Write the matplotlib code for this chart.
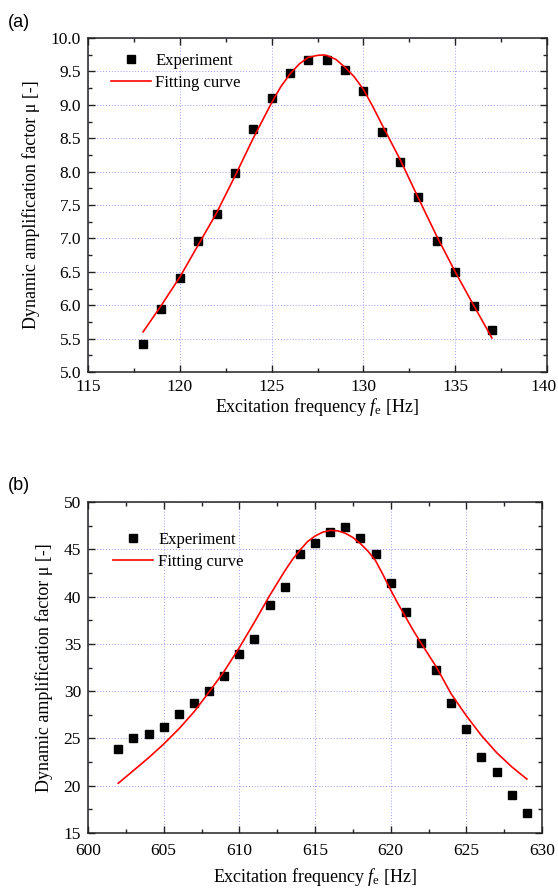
import matplotlib
matplotlib.use("Agg")
import matplotlib.pyplot as plt
import matplotlib.transforms as mtransforms
from matplotlib.ticker import MultipleLocator

# ---- data panel (a)
freq_a = [118, 119, 120, 121, 122, 123, 124, 125, 126, 127, 128, 129, 130,
          131, 132, 133, 134, 135, 136, 137]
mu_a = [5.42, 5.94, 6.40, 6.96, 7.37, 7.98, 8.64, 9.10, 9.47, 9.67, 9.67,
        9.52, 9.21, 8.59, 8.14, 7.62, 6.96, 6.50, 5.99, 5.63]
fit_fa = [118, 119, 120, 121, 122, 123, 124, 125, 125.5, 126, 126.5, 127,
          127.5, 127.8, 128, 128.5, 129, 129.5, 130, 130.5, 131, 132, 133,
          134, 135, 136, 137]
fit_ma = [5.60, 6.00, 6.42, 6.90, 7.38, 7.93, 8.50, 9.03, 9.27, 9.46, 9.61,
          9.71, 9.74, 9.745, 9.74, 9.68, 9.56, 9.42, 9.23, 8.98, 8.71, 8.18,
          7.60, 7.03, 6.50, 6.00, 5.51]

# ---- data panel (b)
freq_b = list(range(602, 630))
mu_b = [23.85, 25.0, 25.47, 26.17, 27.58, 28.78, 29.98, 31.6, 33.93, 35.55,
        39.14, 40.98, 44.47, 45.7, 46.86, 47.32, 46.16, 44.47, 41.4, 38.4,
        35.13, 32.27, 28.78, 26.0, 23.07, 21.41, 19.02, 17.11]
fit_fb = [602, 603, 604, 605, 606, 607, 608, 609, 610, 611, 611.5, 612,
          612.5, 613, 613.5, 614, 614.5, 615, 615.5, 616, 616.5, 617, 617.5,
          618, 618.5, 619, 619.5, 620, 620.5, 621, 621.5, 622, 623, 624, 625,
          626, 627, 628, 629]
fit_mb = [20.26, 21.6, 22.95, 24.4, 26.0, 27.8, 29.9, 32.1, 34.6, 37.3, 38.7,
          40.1, 41.4, 42.7, 43.9, 44.9, 45.8, 46.4, 46.8, 47.0, 46.95, 46.7,
          46.25, 45.6, 44.8, 43.8, 42.3, 40.7, 39.2, 37.8, 36.4, 35.1, 32.6,
          29.7, 27.4, 25.3, 23.5, 22.0, 20.7]

xticks_a = [115, 120, 125, 130, 135, 140]
xticks_b = [600, 605, 610, 615, 620, 625, 630]

xlabel = "Excitation frequency $f_\\mathrm{e}$ [Hz]"
ylabel = "Dynamic amplification factor \u03bc [-]"

plt.rcParams['font.family'] = ['Liberation Serif', 'DejaVu Serif']
plt.rcParams['mathtext.fontset'] = 'custom'
plt.rcParams['mathtext.it'] = 'Liberation Serif:italic'
plt.rcParams['mathtext.rm'] = 'Liberation Serif'

W, H = 558, 893
fig = plt.figure(figsize=(W / 100, H / 100), dpi=100)


def make_ax(l, r, t, b):
    return fig.add_axes([l / W, 1 - b / H, (r - l) / W, (b - t) / H])


def style(ax, xlim, ylim, xticks, xmin, ymaj, ymin, yfmt, xpad, xtpad):
    ax.set_xlim(*xlim)
    ax.set_ylim(*ylim)
    ax.set_xticks(xticks, [str(v) for v in xticks])
    ax.xaxis.set_minor_locator(MultipleLocator(xmin))
    ax.yaxis.set_major_locator(MultipleLocator(ymaj))
    ax.yaxis.set_minor_locator(MultipleLocator(ymin))
    ax.yaxis.set_major_formatter(yfmt)
    ax.tick_params(which='both', direction='in', top=True, right=True,
                   labelsize=12.5, width=1.0, color='#222222')
    ax.tick_params(which='major', length=5, pad=5)
    ax.tick_params(axis='x', which='major', pad=xtpad)
    ax.tick_params(which='minor', length=3)
    for s in ax.spines.values():
        s.set_linewidth(1.1)
        s.set_color('#222222')
    ax.grid(True, which='major', linestyle=(0, (1, 2)), color='#9a9af5',
            linewidth=0.7)
    ax.set_axisbelow(True)
    ax.set_xlabel(xlabel, fontsize=13, labelpad=xpad)
    ax.set_ylabel(ylabel, fontsize=13, labelpad=8)


ax1 = make_ax(88, 547, 38, 372)
style(ax1, (115, 140), (5.0, 10.0), xticks_a, 2.5, 0.5, 0.25, '{x:.1f}', 1, 5)
ax1.plot(freq_a, mu_a, 's', color='black', markersize=6, label='Experiment',
         zorder=3)
ax1.plot(fit_fa, fit_ma, '-', color='red', linewidth=1.2, label='Fitting curve',
         zorder=4)
ax1.legend(loc='upper left', frameon=False, fontsize=12, handlelength=2.4,
           handletextpad=0.25, labelspacing=0.35, borderaxespad=0.3,
           bbox_to_anchor=(0.025, 0.99))

ax2 = make_ax(88, 542, 502, 833)
style(ax2, (600, 630), (15, 50), xticks_b, 2.5, 5, 2.5, '{x:.0f}', 5, 7)
ax2.plot(freq_b, mu_b, 's', color='black', markersize=6, label='Experiment',
         zorder=3)
ax2.plot(fit_fb, fit_mb, '-', color='red', linewidth=1.2, label='Fitting curve',
         zorder=4)
ax2.legend(loc='upper left', frameon=False, fontsize=12, handlelength=2.4,
           handletextpad=0.3, labelspacing=0.35, borderaxespad=0.3,
           bbox_to_anchor=(0.03, 0.945))

fig.text(8 / W, 1 - 27 / H, '(a)', fontsize=13, family='Liberation Sans')
fig.text(8 / W, 1 - 490 / H, '(b)', fontsize=13, family='Liberation Sans')

# nudge the right-most tick label of panel (a) so it stays inside the figure
for lab in ax1.get_xticklabels():
    if lab.get_text() == str(xticks_a[-1]):
        lab.set_transform(lab.get_transform() +
                          mtransforms.ScaledTranslation(-3 / 100, 0,
                                                        fig.dpi_scale_trans))

fig.savefig('out.png', dpi=100)
